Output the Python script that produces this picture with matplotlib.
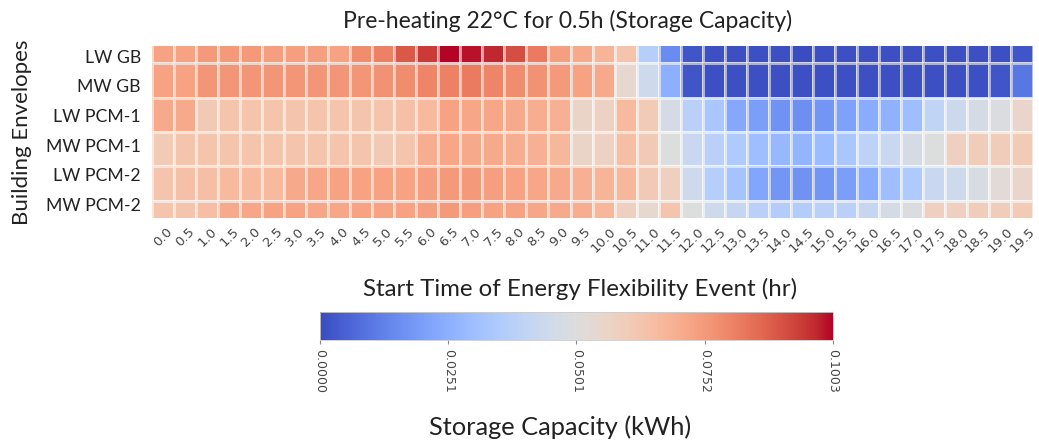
import numpy as np
import matplotlib
matplotlib.use('Agg')
import matplotlib.pyplot as plt

# Storage capacity (kWh) per building envelope and event start time
start_times = [f'{h:.1f}' for h in np.arange(0, 20, 0.5)]
envelopes = ['LW GB', 'MW GB', 'LW PCM-1', 'MW PCM-1', 'LW PCM-2', 'MW PCM-2']

lw_gb = [0.073, 0.073, 0.075, 0.075, 0.075, 0.074, 0.074, 0.074, 0.073, 0.078,
         0.081, 0.089, 0.094, 0.10026, 0.099, 0.097, 0.091, 0.082, 0.074, 0.071,
         0.068, 0.063, 0.037, 0.015, 0.002, 0.001, 0.001, 0.001, 0.001, 0.000,
         0.001, 0.001, 0.001, 0.001, 0.001, 0.001, 0.001, 0.001, 0.001, 0.002]
mw_gb = [0.073, 0.073, 0.076, 0.076, 0.076, 0.076, 0.076, 0.076, 0.076, 0.076,
         0.077, 0.078, 0.080, 0.081, 0.082, 0.080, 0.078, 0.077, 0.075, 0.073,
         0.071, 0.054, 0.045, 0.025, 0.002, 0.001, 0.001, 0.001, 0.001, 0.001,
         0.001, 0.001, 0.001, 0.001, 0.001, 0.001, 0.001, 0.001, 0.002, 0.010]
lw_pcm1 = [0.071, 0.071, 0.061, 0.063, 0.063, 0.063, 0.063, 0.063, 0.063, 0.063,
           0.063, 0.064, 0.066, 0.073, 0.072, 0.072, 0.071, 0.070, 0.069, 0.056,
           0.057, 0.066, 0.060, 0.047, 0.038, 0.033, 0.023, 0.020, 0.017, 0.016,
           0.018, 0.021, 0.024, 0.026, 0.030, 0.040, 0.044, 0.047, 0.049, 0.055]
mw_pcm1 = [0.060, 0.063, 0.063, 0.063, 0.063, 0.063, 0.063, 0.063, 0.063, 0.063,
           0.061, 0.063, 0.070, 0.072, 0.071, 0.071, 0.070, 0.069, 0.067, 0.056,
           0.057, 0.065, 0.061, 0.050, 0.043, 0.038, 0.035, 0.030, 0.028, 0.027,
           0.029, 0.033, 0.039, 0.043, 0.047, 0.050, 0.058, 0.059, 0.059, 0.060]
lw_pcm2 = [0.063, 0.064, 0.065, 0.066, 0.066, 0.066, 0.071, 0.072, 0.073, 0.073,
           0.073, 0.073, 0.074, 0.075, 0.075, 0.074, 0.073, 0.072, 0.071, 0.069,
           0.068, 0.067, 0.061, 0.058, 0.045, 0.037, 0.032, 0.022, 0.018, 0.017,
           0.018, 0.020, 0.024, 0.030, 0.035, 0.043, 0.045, 0.048, 0.052, 0.055]
mw_pcm2 = [0.063, 0.063, 0.065, 0.071, 0.072, 0.073, 0.073, 0.072, 0.072, 0.073,
           0.073, 0.073, 0.074, 0.075, 0.074, 0.073, 0.073, 0.072, 0.071, 0.070,
           0.067, 0.058, 0.054, 0.063, 0.050, 0.045, 0.042, 0.038, 0.036, 0.036,
           0.038, 0.038, 0.042, 0.047, 0.049, 0.058, 0.058, 0.059, 0.059, 0.060]

data = np.array([lw_gb, mw_gb, lw_pcm1, mw_pcm1, lw_pcm2, mw_pcm2])
vmin, vmax = 0.0, data.max()

label_font = 'Lato'
text_color = '#222222'

fig = plt.figure(figsize=(10.39, 4.44), dpi=100)
ax = fig.add_axes([0.1463, 0.509, 0.848, 0.3875])

mesh = ax.pcolormesh(data, cmap='coolwarm', vmin=vmin, vmax=vmax,
                     edgecolors=(1, 1, 1, 0.55), linewidth=0.8)
# top and bottom rows are cut in half, as in the original figure
ax.set_ylim(5.5, 0.5)
ax.set_xlim(0, data.shape[1])
for s in ax.spines.values():
    s.set_visible(False)

ax.set_xticks(np.arange(data.shape[1]) + 0.5)
ax.set_xticklabels(start_times, rotation=45, fontsize=9.5, color='#444444')
ax.set_yticks(np.linspace(0.8, 5.1, len(envelopes)))
ax.set_yticklabels(envelopes, fontsize=12.7, family=label_font, color=text_color)
ax.tick_params(axis='y', length=0, pad=8)
ax.tick_params(axis='x', length=0, pad=5)

ax.set_title('Pre-heating 22°C for 0.5h (Storage Capacity)', fontsize=16.5,
             family=label_font, color=text_color, pad=13, x=0.472)
ax.set_xlabel('Start Time of Energy Flexibility Event (hr)', fontsize=17.3,
              family=label_font, color=text_color)
ax.xaxis.set_label_coords(0.486, -0.35)
ax.set_ylabel('Building Envelopes', fontsize=16, family=label_font,
              color=text_color, labelpad=10)

cax = fig.add_axes([0.308, 0.234, 0.4937, 0.063])
cbar = fig.colorbar(mesh, cax=cax, orientation='horizontal')
ticks = np.linspace(vmin, vmax, 5)
cbar.set_ticks(ticks)
cbar.set_ticklabels([f'{t:.4f}' for t in ticks])
cax.tick_params(labelsize=9, labelcolor='#444444', rotation=270, length=3,
                color='#888888')
cbar.outline.set_edgecolor('#cccccc')
cbar.outline.set_linewidth(0.6)
cbar.set_label('Storage Capacity (kWh)', fontsize=18.3, family=label_font,
               color=text_color)
cax.xaxis.set_label_coords(0.468, -2.68)

fig.savefig('out.png', dpi=100)
